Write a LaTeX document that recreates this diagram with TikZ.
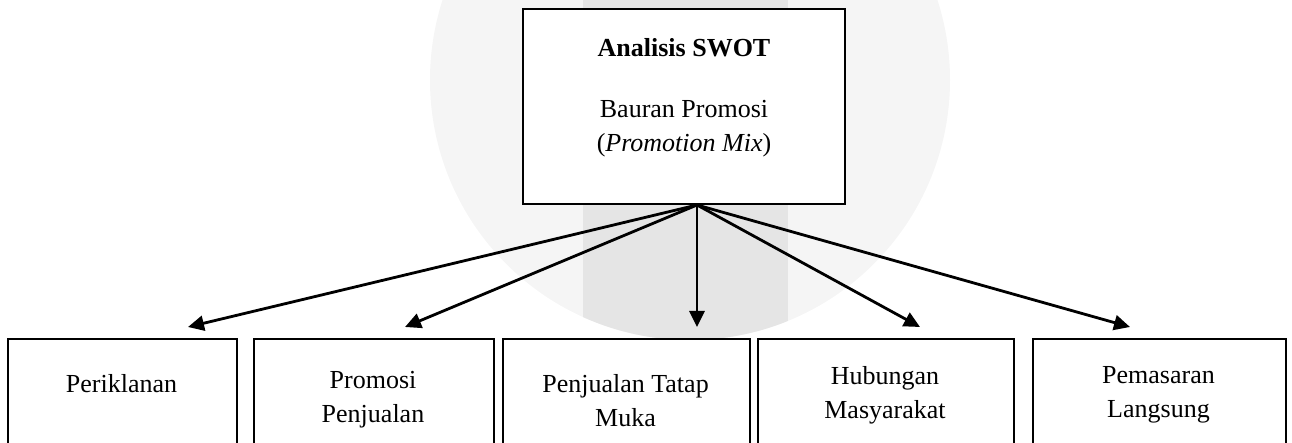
\documentclass[tikz,border=0pt]{standalone}
\usepackage{fontspec}
\setmainfont{Liberation Serif}
\usetikzlibrary{arrows.meta, positioning, calc}

\def\boxtop{338}
\def\boxbottom{480}
\def\tiprow{327}

\tikzset{
  aspectbox/.style={draw, line width=1pt, inner sep=0},
  caption/.style={align=center, inner sep=0, font=\fontsize{13}{17}\selectfont},
  link/.style={line width=1.4pt, -{Triangle[length=8pt,width=7.5pt]}},
}

% one promotion tool: box, label and arrow from the hub
\newcommand\aspect[6]{%
    % box
    \node (#1) [aspectbox, anchor=north west,
        minimum width={(#3-#2)*0.5pt},
        minimum height={(\boxbottom-\boxtop)*0.5pt}] at (#2,\boxtop) {};
    % label
    \node (#1text) [caption, anchor=north] at ({(#2+#3)/2},#5) {#6};
    % arrow
    \coordinate (#1tip) at (#4,\tiprow);
    \draw [link] (hub) -- (#1tip);
}

\begin{document}
\begin{tikzpicture}[x=0.5pt, y=-0.5pt]

\useasboundingbox (0,0) rectangle (1292,443);
\clip (0,0) rectangle (1292,443);

% Watermark
\fill [black!4] (690,80) circle (130pt);
\begin{scope}
  \clip (690,80) circle (130pt);
  \fill [black!10] (583,0) rectangle (788,400);
\end{scope}

% Top box
\node (swot) [aspectbox, fill=white, minimum width=161pt, minimum height=97.5pt]
    at (684,106.5) {};
\node (swottext) [caption, anchor=north] at (684,38)
    {\textbf{Analisis SWOT}\\[13.5pt] Bauran Promosi\\ (\textit{Promotion Mix})};
\coordinate (hub) at ([xshift=6.5pt]swot.south);

% Promotion mix
\aspect{iklan}    {7}   {236}  {188}  {374} {Periklanan}
\aspect{promosi}  {253} {493}  {405}  {371} {Promosi\\ Penjualan}
\aspect{tatapmuka}{502} {749}  {697}  {374} {Penjualan Tatap\\ Muka}
\aspect{humas}    {757} {1013} {920}  {366} {Hubungan\\ Masyarakat}
\aspect{langsung} {1032}{1285} {1130} {366} {Pemasaran\\ Langsung}

\end{tikzpicture}
\end{document}
